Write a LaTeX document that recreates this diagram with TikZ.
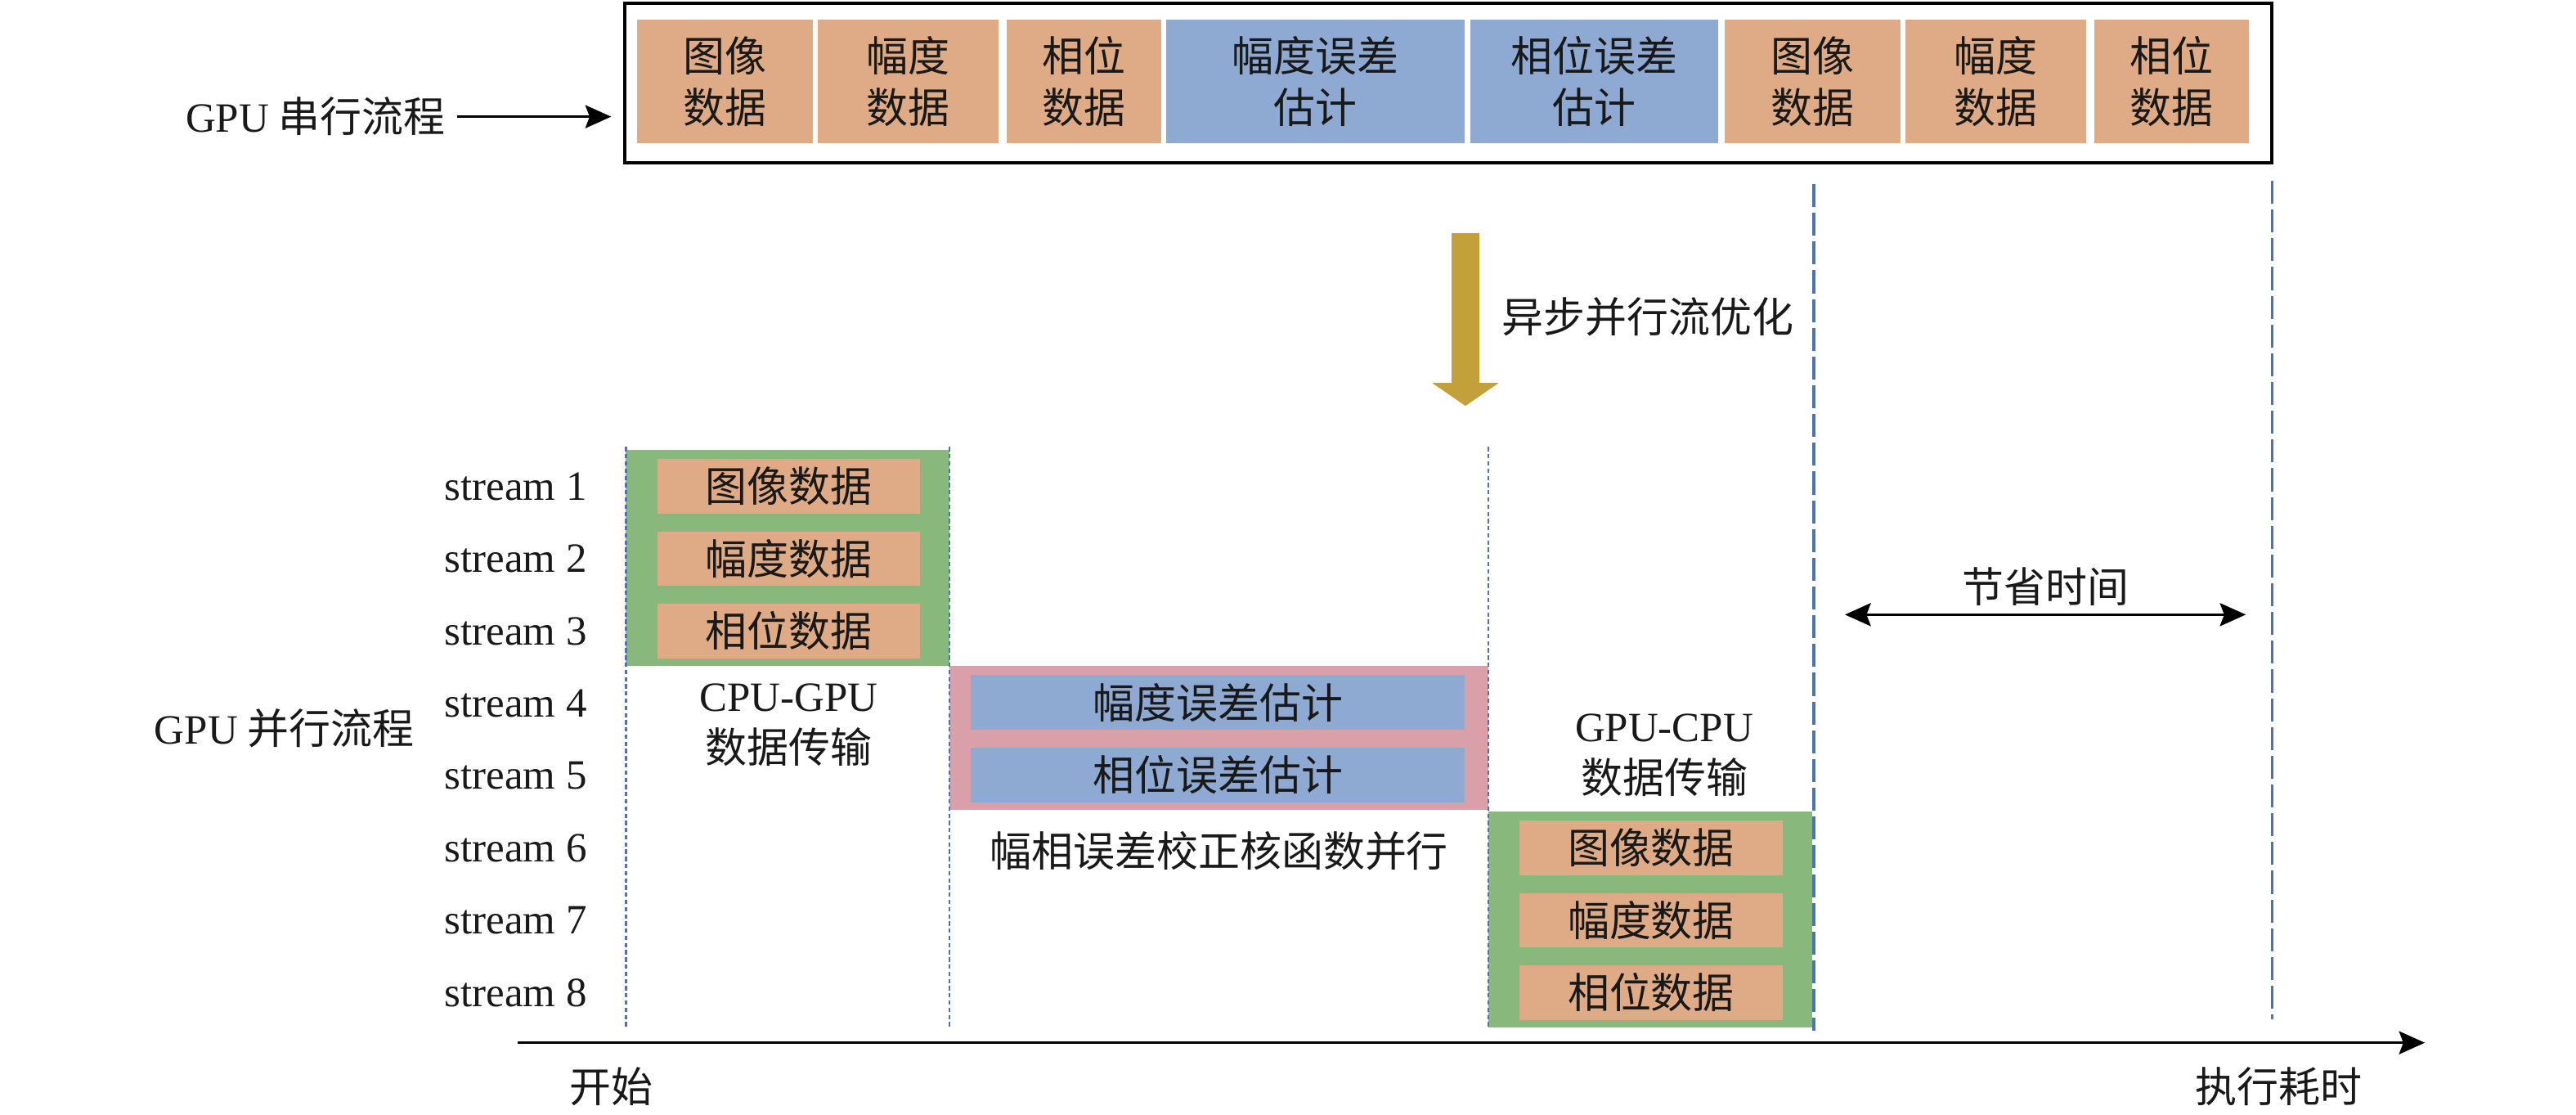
\documentclass[tikz,border=0pt]{standalone}
\usepackage{fontspec}
\setmainfont{Noto Sans CJK SC}
\newfontfamily\lat{Liberation Serif}
\usetikzlibrary{arrows.meta,positioning}
\definecolor{dataorange}{RGB}{222,171,134}
\definecolor{errblue}{RGB}{143,170,210}
\definecolor{xfergreen}{RGB}{137,184,125}
\definecolor{kernpink}{RGB}{218,160,170}
\definecolor{optgold}{RGB}{196,160,58}
\definecolor{lineblue}{RGB}{80,116,170}
\def\pxu{0.2009mm}
\tikzset{
  every node/.style={font=\fontsize{14.5}{18}\selectfont, inner sep=0pt, text=black!90},
  cell/.style={minimum height=75.5*\pxu, align=center},
  databar/.style={minimum width=160*\pxu, minimum height=33*\pxu, fill=dataorange},
  errbar/.style={minimum width=300.5*\pxu, minimum height=33.5*\pxu, fill=errblue},
  finish/.style={lineblue, line width=1pt, dash pattern=on 8pt off 2pt},
  phase/.style={lineblue, line width=0.75pt, dash pattern=on 1.5pt off 1pt},
  tip/.style={Stealth[length=9pt,width=8pt,inset=1.5pt]},
  arr/.style={-{Stealth[length=9pt,width=8pt,inset=1.5pt]}, line width=0.9pt},
  dblarr/.style={{Stealth[length=9pt,width=8pt,inset=1.5pt]}-{Stealth[length=9pt,width=8pt,inset=1.5pt]}, line width=0.9pt},
}
\begin{document}
\begin{tikzpicture}[x=0.2009mm, y=-0.2009mm]
  \useasboundingbox (0,0) rectangle (1568,678);
  \node[draw, line width=1.1pt, minimum width=1002.5*\pxu, minimum height=97*\pxu] (serialframe) at (881.75,50.5) {};
  \foreach \i/\xa/\xb/\col/\txt in {1/388/495/dataorange/图像\\数据, 2/498/608/dataorange/幅度\\数据,
      3/613/707/dataorange/相位\\数据, 4/710/891.5/errblue/幅度误差\\估计, 5/895/1046/errblue/相位误差\\估计,
      6/1050/1157/dataorange/图像\\数据, 7/1160/1270/dataorange/幅度\\数据, 8/1275/1369/dataorange/相位\\数据}
    \node[cell, fill=\col, minimum width={(\xb-\xa)*\pxu}] (top\i) at ({(\xa+\xb)/2},49.5) {\txt};
  \node (serial) at (192,71) {{\lat GPU} 串行流程};
  \draw[arr, shorten <=7*\pxu, shorten >=7.5*\pxu] (serial.east) -- (serial.east -| serialframe.west);

  \coordinate (optA) at (892,142);
  \coordinate (optB) at (892,247);
  \draw[optgold, line width=16.5*\pxu, -{Triangle[width=22.8pt,length=8pt]}] (optA) -- (optB);
  \node[anchor=west] (optlabel) at (914,193) {异步并行流优化};

  \foreach \i in {1,...,8}
    \node (s\i) at (314,{296+44*(\i-1)}) {\lat stream \i};
  \node (parallel) at (173,443) {{\lat GPU} 并行流程};

  \node[fill=xfergreen, minimum width=197*\pxu, minimum height=131*\pxu] (h2d) at (479.5,339.5) {};
  \node[fill=kernpink, minimum width=328*\pxu, minimum height=88*\pxu] (kernel) at (742,449) {};
  \node[fill=xfergreen, minimum width=197*\pxu, minimum height=131*\pxu] (d2h) at (1004.5,559.5) {};
  \foreach \x in {381,578,906}
    \draw[phase] (\x,272) -- (\x,626);
  \foreach \i/\txt in {1/图像数据, 2/幅度数据, 3/相位数据} {
    \node[databar] (h2d\i) at (480,{296+44*(\i-1)}) {\txt};
    \node[databar] (d2h\i) at (1005,{516+44*(\i-1)}) {\txt};
  }
  \node[errbar] (kernel1) at (741.25,427.5) {幅度误差估计};
  \node[errbar] (kernel2) at (741.25,471.5) {相位误差估计};
  \node[align=center] (h2dlabel) at (480,441) {{\lat CPU-GPU}\\数据传输};
  \node (kernellabel) at (742,518) {幅相误差校正核函数并行};
  \node[align=center] (d2hlabel) at (1013,459.5) {{\lat GPU-CPU}\\数据传输};

  \draw[finish] (1104,112) -- (1104,627);
  \draw[finish] (1383,110) -- (1383,620);
  \coordinate (parEnd) at (1104,374);
  \coordinate (serEnd) at (1383,374);
  \draw[dblarr, shorten <=19*\pxu, shorten >=16*\pxu] (parEnd) -- (serEnd);
  \node (saved) at (1245,357) {节省时间};

  \coordinate (t0) at (315,634.5);
  \coordinate (t1) at (1476,634.5);
  \draw[arr] (t0) -- (t1);
  \node (start) at (372,661) {开始};
  \node (elapsed) at (1387,661) {执行耗时};
\end{tikzpicture}
\end{document}
